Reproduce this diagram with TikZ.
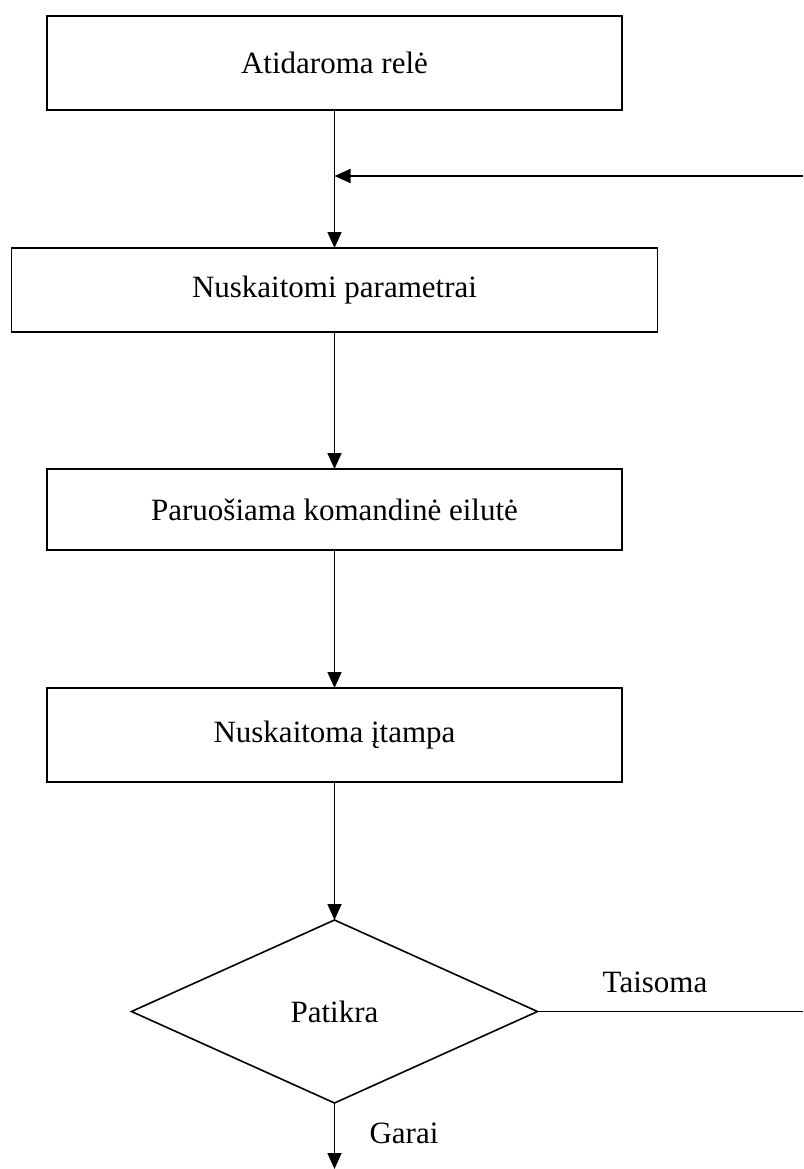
\documentclass[tikz,border=0pt]{standalone}
\usepackage{fontspec}
\setmainfont{Liberation Serif}
\usetikzlibrary{positioning,arrows.meta,shapes.geometric}

\begin{document}
\begin{tikzpicture}[x=1pt,y=-1pt,>={Triangle[length=16pt,width=14pt]},font=\fontsize{31}{37}\selectfont,node distance=138pt,
  stepbox/.style={draw,line width=1.9pt,minimum width=575pt,minimum height=94pt,inner sep=0pt,outer sep=0pt},
  flow/.style={line width=1.6pt}]
\useasboundingbox (0,0) rectangle (803,1169);
\node[stepbox] (open) at (334.5,63) {Atidaroma relė};
\node[stepbox,below=of open,minimum width=646pt,minimum height=84pt] (params) {Nuskaitomi parametrai};
\node[stepbox,below=137pt of params,minimum height=81pt] (cmd) {Paruošiama komandinė eilutė};
\node[stepbox,below=of cmd] (volt) {Nuskaitoma įtampa};
\node[draw,diamond,line width=1.6pt,minimum width=406pt,minimum height=183pt,inner sep=0pt,outer sep=0pt,below=of volt] (check) {Patikra};

\draw[flow,->] (open) -- (params);
\draw[flow,->] (params) -- (cmd);
\draw[flow,->] (cmd) -- (volt);
\draw[flow,->] (volt) -- (check);

% grizimas atgal
\coordinate (loopin) at (803,176);
\coordinate (loopout) at (803,1012);
\draw[flow,->] (loopin) -- (loopin -| open.south);
\draw[flow] (check.east) -- (check.east -| loopout);
\node (fix) at (655,982) {Taisoma};

\coordinate (exit) at (335,1169);
\draw[flow,->] (check) -- (check.south |- exit);
\node (ok) at (404,1133) {Garai};
\end{tikzpicture}
\end{document}
